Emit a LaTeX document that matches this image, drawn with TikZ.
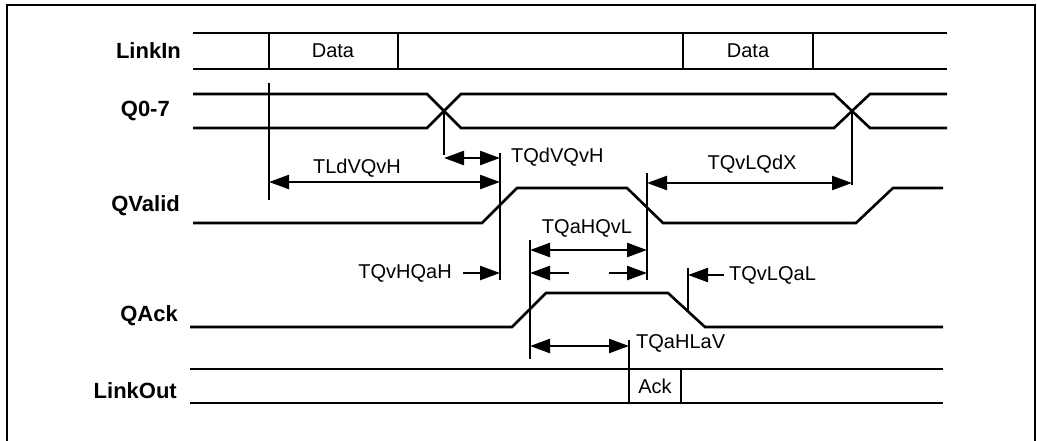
\documentclass[tikz,border=0pt]{standalone}
\usepackage{fontspec}
\setmainfont{Liberation Sans}
\newfontfamily\regfont{Liberation Sans}
\usetikzlibrary{arrows.meta}
\begin{document}
\begin{tikzpicture}[x=1pt,y=-1pt,
  sig/.style={line width=2.6pt, line join=miter},
  ext/.style={line width=2.4pt},
  tip/.tip={Triangle[length=20pt,width=14pt]},
  dimboth/.style={line width=2.4pt, tip-tip},
  dimone/.style={line width=2.4pt, -tip},
  signame/.style={font=\regfont\bfseries\fontsize{22}{26}\selectfont, anchor=east, inner sep=0pt},
  tlabel/.style={font=\regfont\fontsize{20}{24}\selectfont, inner sep=0pt},
  boxtext/.style={font=\regfont\fontsize{20}{24}\selectfont, inner sep=0pt}]
\useasboundingbox (0,0) rectangle (1037,440);
% frame
\draw[line width=1.8pt] (7,460) -- (7,5) -- (1035,5) -- (1035,460);

% signal names
\node[signame] (nLinkIn) at (181,51) {LinkIn};
\node[signame] (nQ) at (170,111) {Q0-7};
\node[signame] (nQValid) at (180,206) {QValid};
\node[signame] (nQAck) at (178,316) {QAck};
\node[signame] (nLinkOut) at (177,391) {LinkOut};

% LinkIn
\draw[sig] (193,33) -- (947,33);
\draw[sig] (193,69) -- (947,69);
\foreach \x in {269,398,683,813} \draw[sig] (\x,33) -- (\x,69);
\node[boxtext] (d1) at (333,51) {Data};
\node[boxtext] (d2) at (748,51) {Data};

% Q0-7
\draw[sig] (193,94) -- (427,94) -- (461,128) -- (834,128) -- (870,94) -- (947,94);
\draw[sig] (193,128) -- (427,128) -- (461,94) -- (834,94) -- (870,128) -- (947,128);

% QValid
\draw[sig] (193,223) -- (482,223) -- (517,188) -- (627,188) -- (663,223) -- (856,223) -- (893,188) -- (943,188);

% QAck
\draw[sig] (190,327) -- (512,327) -- (546,293) -- (668,293) -- (705,327) -- (943,327);

% LinkOut
\draw[sig] (190,369) -- (943,369);
\draw[sig] (190,403) -- (943,403);
\draw[sig] (681,369) -- (681,403);
\node[boxtext] (ack) at (655,386) {Ack};

% extension lines
\coordinate (a1) at (269,83);  \coordinate (a2) at (269,200);
\coordinate (b1) at (444,111); \coordinate (b2) at (444,155);
\coordinate (c1) at (500,153); \coordinate (c2) at (500,280);
\coordinate (e1) at (647,173); \coordinate (e2) at (647,280);
\coordinate (f1) at (852,111); \coordinate (f2) at (852,185);
\coordinate (g1) at (530,240); \coordinate (g2) at (530,359);
\coordinate (h1) at (688,268); \coordinate (h2) at (688,312);
\coordinate (k1) at (629,340); \coordinate (k2) at (629,403);
\foreach \p/\q in {a1/a2,b1/b2,c1/c2,e1/e2,f1/f2,g1/g2,h1/h2,k1/k2}
  \draw[ext] (\p) -- (\q);

% TLdVQvH
\draw[dimboth] (269,182) -- (500,182);
\node[tlabel] (t1) at (357,168) {TLdVQvH};
% TQdVQvH
\draw[dimboth] (444,158) -- (500,158);
\node[tlabel, anchor=west] (t2) at (511,157) {TQdVQvH};
% TQvLQdX
\draw[dimboth] (647,183) -- (852,183);
\node[tlabel] (t3) at (752,164) {TQvLQdX};
% TQvHQaH
\node[tlabel, anchor=east] (t4) at (452,273) {TQvHQaH};
\draw[dimone] (463,273) -- (500,273);
% TQaHQvL
\node[tlabel] (t5) at (587,228) {TQaHQvL};
\draw[dimboth] (530,250) -- (647,250);
\draw[dimone] (569,273) -- (530,273);
\draw[dimone] (609,273) -- (647,273);
% TQvLQaL
\draw[dimone] (724,275) -- (688,275);
\node[tlabel, anchor=west] (t6) at (729,275) {TQvLQaL};
% TQaHLaV
\draw[dimboth] (530,346) -- (629,346);
\node[tlabel, anchor=west] (t7) at (636,343) {TQaHLaV};
\end{tikzpicture}
\end{document}
